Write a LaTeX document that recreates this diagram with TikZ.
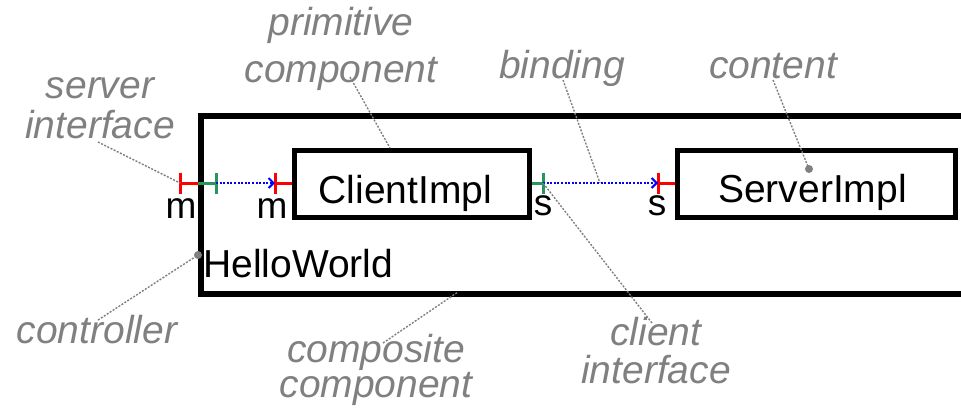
\documentclass[tikz,border=0pt]{standalone}
\usepackage{fontspec}
\setmainfont{Liberation Sans}
\usetikzlibrary{arrows.meta,positioning}
\definecolor{itfred}{RGB}{255,0,0}
\definecolor{itfgreen}{RGB}{40,150,90}
\definecolor{bindblue}{RGB}{0,0,255}
\definecolor{notegray}{RGB}{128,128,128}
\tikzset{
	compbox/.style={draw=black, line width=4.5pt, inner sep=0pt, anchor=north west},
	boxtext/.style={font=\fontsize{39}{40}\selectfont, inner sep=0pt, anchor=base},
	itflabel/.style={font=\fontsize{37}{40}\selectfont, inner sep=0pt, anchor=base},
	note/.style={text=notegray, font=\fontsize{39}{40}\selectfont\itshape, align=center, inner sep=0pt, anchor=base},
	leader/.style={draw=notegray, line width=1.4pt, dash pattern=on 2pt off 1.5pt},
	srvitf/.style={draw=itfred, line width=3pt},
	cltitf/.style={draw=itfgreen, line width=3pt},
	bindline/.style={draw=bindblue, line width=2pt, dash pattern=on 2pt off 1.6pt, -{Straight Barb[length=5pt,width=10pt]}}
}
\begin{document}
\begin{tikzpicture}[x=1pt,y=-1pt]
			\clip (0,0) rectangle (961,413);
			
			\node[compbox, line width=5.5pt, minimum width=800pt, minimum height=178pt] (hello) at (198,113) {};
			\node[compbox, minimum width=235pt, minimum height=67pt] (client) at (292,148) {};
			\node[compbox, minimum width=278pt, minimum height=67pt] (server) at (675,148) {};
			\node[boxtext, anchor=base west] (hellotxt) at (203,277) {HelloWorld};
			\node[boxtext] (clienttxt) at (405.5,203) {ClientImpl};
			\node[boxtext] (servertxt) at (812.5,202) {ServerImpl};
			
			\coordinate (hsrv) at (180,183);
			\coordinate (hclt) at (216,183);
			\coordinate (csrv) at (275,183);
			\coordinate (cclt) at (543,183);
			\coordinate (ssrv) at (658,183);
			
			\draw[srvitf] (hsrv) -- (hsrv -| hello.west);
			\draw[srvitf] ([yshift=10.5pt]hsrv) -- ([yshift=-10.5pt]hsrv);
			\draw[cltitf] (hsrv -| hello.west) -- (hclt);
			\draw[cltitf] ([yshift=10.5pt]hclt) -- ([yshift=-10.5pt]hclt);
			\draw[srvitf] (csrv) -- (csrv -| client.west);
			\draw[srvitf] ([yshift=10.5pt]csrv) -- ([yshift=-10.5pt]csrv);
			\draw[cltitf] (cclt -| client.east) -- (cclt);
			\draw[cltitf] ([yshift=10.5pt]cclt) -- ([yshift=-10.5pt]cclt);
			\draw[srvitf] (ssrv) -- (ssrv -| server.west);
			\draw[srvitf] ([yshift=10.5pt]ssrv) -- ([yshift=-10.5pt]ssrv);
			\draw[bindline] (hclt) -- (csrv);
			\draw[bindline] (cclt) -- (ssrv);
			
			\node[itflabel] (hm) at (181,218) {m};
			\node[itflabel] (cm) at (272,218) {m};
			\node[itflabel] (cs) at (543,215) {s};
			\node[itflabel] (ss) at (657,215) {s};
			
			\node[note] (srvnote) at (100,138) {server\\interface};
			\node[note] (primnote) at (341,82) {primitive\\[7pt]component};
			\node[note] (bindnote) at (562,78) {binding};
			\node[note] (contnote) at (773,78) {content};
			\node[note] (ctrlnote) at (97,343) {controller};
			\node[note] (compnote) at (376,397) {composite\\[-5pt]component};
			\node[note] (cltnote) at (656,383) {client\\[-2pt]interface};
			
			\coordinate (srvfrom) at (98,142);
			\coordinate (primfrom) at (350,77);
			\coordinate (primto) at (390,148);
			\coordinate (bindfrom) at (563,80);
			\coordinate (bindto) at (600,183);
			\coordinate (contfrom) at (773,80);
			\coordinate (contto) at (809,169);
			\coordinate (ctrlfrom) at (98,320);
			\coordinate (ctrlto) at (198,255);
			\coordinate (compfrom) at (383,343);
			\coordinate (compto) at (458,292);
			\coordinate (cltfrom) at (652,323);
			
			\draw[leader] (srvfrom) -- (hsrv);
			\draw[leader] (primfrom) -- (primto);
			\draw[leader] (bindfrom) -- (bindto);
			\draw[leader] (contfrom) -- (contto);
			\draw[leader] (ctrlfrom) -- (ctrlto);
			\draw[leader] (compfrom) -- (compto);
			\draw[leader] (cltfrom) -- (cclt);
			\fill[notegray] (contto) circle (4pt);
			\fill[notegray] (ctrlto) circle (4pt);
		\end{tikzpicture}
\end{document}
